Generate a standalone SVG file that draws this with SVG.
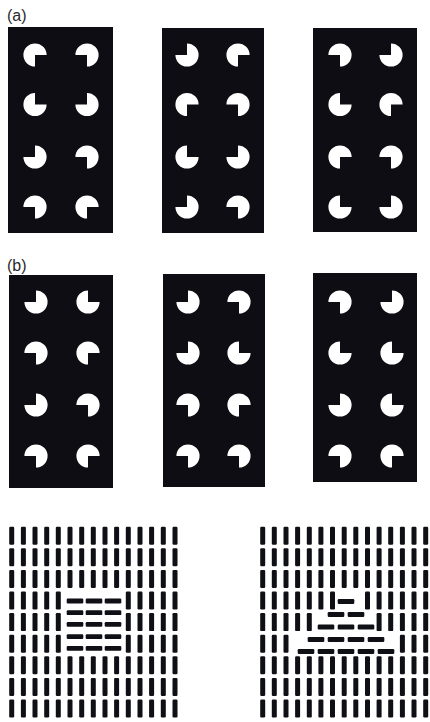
<svg xmlns="http://www.w3.org/2000/svg" xmlns:xlink="http://www.w3.org/1999/xlink" width="430" height="722" viewBox="0 0 430 722">
<style>
.bg{fill:#0d0d13}
.pm{fill:#ffffff}
.bar{fill:#0f0f16}
.lbl{font-family:"Liberation Sans",Arial,sans-serif;font-size:16px;fill:#2a2a2a}
</style>
<defs>
<path id="p" class="pm" d="M0,0 H11.6 A11.6,11.6 0 1 0 0,11.6 Z"/>
<rect id="v" class="bar" x="-2.5" y="-9" width="5" height="18" rx="1.2"/>
<rect id="h" class="bar" x="-8.3" y="-2.4" width="16.6" height="4.8" rx="1.2"/>
</defs>
<rect width="430" height="722" fill="#ffffff"/>
<text class="lbl" x="7" y="21">(a)</text>
<text class="lbl" x="7" y="271">(b)</text>

<g id="a1">
<rect class="bg" x="8" y="27" width="105" height="206"/>
<use xlink:href="#p" transform="translate(35,55) rotate(0)"/>
<use xlink:href="#p" transform="translate(87,55) rotate(90)"/>
<use xlink:href="#p" transform="translate(35,104.5) rotate(270)"/>
<use xlink:href="#p" transform="translate(87,104.5) rotate(180)"/>
<use xlink:href="#p" transform="translate(35,157) rotate(180)"/>
<use xlink:href="#p" transform="translate(87,157) rotate(90)"/>
<use xlink:href="#p" transform="translate(35,207) rotate(90)"/>
<use xlink:href="#p" transform="translate(87,207) rotate(0)"/>
</g>
<g id="a2">
<rect class="bg" x="162" y="28" width="102" height="205"/>
<use xlink:href="#p" transform="translate(187,55) rotate(180)"/>
<use xlink:href="#p" transform="translate(238,55) rotate(0)"/>
<use xlink:href="#p" transform="translate(187,104.5) rotate(0)"/>
<use xlink:href="#p" transform="translate(238,104.5) rotate(90)"/>
<use xlink:href="#p" transform="translate(187,157) rotate(270)"/>
<use xlink:href="#p" transform="translate(238,157) rotate(180)"/>
<use xlink:href="#p" transform="translate(187,207) rotate(180)"/>
<use xlink:href="#p" transform="translate(238,207) rotate(90)"/>
</g>
<g id="a3">
<rect class="bg" x="313" y="28" width="104" height="204"/>
<use xlink:href="#p" transform="translate(340,55) rotate(90)"/>
<use xlink:href="#p" transform="translate(391,55) rotate(180)"/>
<use xlink:href="#p" transform="translate(340,104.5) rotate(270)"/>
<use xlink:href="#p" transform="translate(391,104.5) rotate(0)"/>
<use xlink:href="#p" transform="translate(340,157) rotate(0)"/>
<use xlink:href="#p" transform="translate(391,157) rotate(90)"/>
<use xlink:href="#p" transform="translate(340,207) rotate(270)"/>
<use xlink:href="#p" transform="translate(391,207) rotate(180)"/>
</g>

<g id="b1">
<rect class="bg" x="9" y="275" width="104" height="213"/>
<use xlink:href="#p" transform="translate(36,302) rotate(180)"/>
<use xlink:href="#p" transform="translate(88,302) rotate(270)"/>
<use xlink:href="#p" transform="translate(36,353) rotate(90)"/>
<use xlink:href="#p" transform="translate(88,353) rotate(0)"/>
<use xlink:href="#p" transform="translate(36,405) rotate(180)"/>
<use xlink:href="#p" transform="translate(88,405) rotate(90)"/>
<use xlink:href="#p" transform="translate(36,456) rotate(90)"/>
<use xlink:href="#p" transform="translate(88,456) rotate(0)"/>
</g>
<g id="b2">
<rect class="bg" x="163" y="274" width="102" height="213"/>
<use xlink:href="#p" transform="translate(188,302) rotate(180)"/>
<use xlink:href="#p" transform="translate(239,302) rotate(90)"/>
<use xlink:href="#p" transform="translate(188,353) rotate(180)"/>
<use xlink:href="#p" transform="translate(239,353) rotate(270)"/>
<use xlink:href="#p" transform="translate(188,405) rotate(90)"/>
<use xlink:href="#p" transform="translate(239,405) rotate(0)"/>
<use xlink:href="#p" transform="translate(188,456) rotate(90)"/>
<use xlink:href="#p" transform="translate(239,456) rotate(90)"/>
</g>
<g id="b3">
<rect class="bg" x="313" y="273" width="104" height="209"/>
<use xlink:href="#p" transform="translate(340,302) rotate(90)"/>
<use xlink:href="#p" transform="translate(392,302) rotate(180)"/>
<use xlink:href="#p" transform="translate(340,353) rotate(270)"/>
<use xlink:href="#p" transform="translate(392,353) rotate(270)"/>
<use xlink:href="#p" transform="translate(340,405) rotate(180)"/>
<use xlink:href="#p" transform="translate(392,405) rotate(270)"/>
<use xlink:href="#p" transform="translate(340,456) rotate(90)"/>
<use xlink:href="#p" transform="translate(392,456) rotate(0)"/>
</g>

<g id="texture-left">
<g transform="translate(0,535.7)">
<use xlink:href="#v" x="11.7"/><use xlink:href="#v" x="23.4"/><use xlink:href="#v" x="35"/><use xlink:href="#v" x="46.7"/><use xlink:href="#v" x="58.3"/><use xlink:href="#v" x="70"/><use xlink:href="#v" x="81.7"/><use xlink:href="#v" x="93.3"/><use xlink:href="#v" x="105"/><use xlink:href="#v" x="116.6"/><use xlink:href="#v" x="128.3"/><use xlink:href="#v" x="140"/><use xlink:href="#v" x="151.6"/><use xlink:href="#v" x="163.3"/><use xlink:href="#v" x="175"/>
</g>
<g transform="translate(0,557.3)">
<use xlink:href="#v" x="11.7"/><use xlink:href="#v" x="23.4"/><use xlink:href="#v" x="35"/><use xlink:href="#v" x="46.7"/><use xlink:href="#v" x="58.3"/><use xlink:href="#v" x="70"/><use xlink:href="#v" x="81.7"/><use xlink:href="#v" x="93.3"/><use xlink:href="#v" x="105"/><use xlink:href="#v" x="116.6"/><use xlink:href="#v" x="128.3"/><use xlink:href="#v" x="140"/><use xlink:href="#v" x="151.6"/><use xlink:href="#v" x="163.3"/><use xlink:href="#v" x="175"/>
</g>
<g transform="translate(0,578.9)">
<use xlink:href="#v" x="11.7"/><use xlink:href="#v" x="23.4"/><use xlink:href="#v" x="35"/><use xlink:href="#v" x="46.7"/><use xlink:href="#v" x="58.3"/><use xlink:href="#v" x="70"/><use xlink:href="#v" x="81.7"/><use xlink:href="#v" x="93.3"/><use xlink:href="#v" x="105"/><use xlink:href="#v" x="116.6"/><use xlink:href="#v" x="128.3"/><use xlink:href="#v" x="140"/><use xlink:href="#v" x="151.6"/><use xlink:href="#v" x="163.3"/><use xlink:href="#v" x="175"/>
</g>
<g transform="translate(0,600.5)">
<use xlink:href="#v" x="11.7"/><use xlink:href="#v" x="23.4"/><use xlink:href="#v" x="35"/><use xlink:href="#v" x="46.7"/><use xlink:href="#v" x="58.3"/><use xlink:href="#v" x="128.3"/><use xlink:href="#v" x="140"/><use xlink:href="#v" x="151.6"/><use xlink:href="#v" x="163.3"/><use xlink:href="#v" x="175"/>
</g>
<g transform="translate(0,622.1)">
<use xlink:href="#v" x="11.7"/><use xlink:href="#v" x="23.4"/><use xlink:href="#v" x="35"/><use xlink:href="#v" x="46.7"/><use xlink:href="#v" x="58.3"/><use xlink:href="#v" x="128.3"/><use xlink:href="#v" x="140"/><use xlink:href="#v" x="151.6"/><use xlink:href="#v" x="163.3"/><use xlink:href="#v" x="175"/>
</g>
<g transform="translate(0,643.7)">
<use xlink:href="#v" x="11.7"/><use xlink:href="#v" x="23.4"/><use xlink:href="#v" x="35"/><use xlink:href="#v" x="46.7"/><use xlink:href="#v" x="58.3"/><use xlink:href="#v" x="128.3"/><use xlink:href="#v" x="140"/><use xlink:href="#v" x="151.6"/><use xlink:href="#v" x="163.3"/><use xlink:href="#v" x="175"/>
</g>
<g>
<use xlink:href="#h" x="75" y="601"/><use xlink:href="#h" x="94" y="601"/><use xlink:href="#h" x="113" y="601"/>
<use xlink:href="#h" x="75" y="612.7"/><use xlink:href="#h" x="94" y="612.7"/><use xlink:href="#h" x="113" y="612.7"/>
<use xlink:href="#h" x="75" y="624.4"/><use xlink:href="#h" x="94" y="624.4"/><use xlink:href="#h" x="113" y="624.4"/>
<use xlink:href="#h" x="75" y="636.6"/><use xlink:href="#h" x="94" y="636.6"/><use xlink:href="#h" x="113" y="636.6"/>
<use xlink:href="#h" x="75" y="648.3"/><use xlink:href="#h" x="94" y="648.3"/><use xlink:href="#h" x="113" y="648.3"/>
</g>
<g transform="translate(0,665.3)">
<use xlink:href="#v" x="11.7"/><use xlink:href="#v" x="23.4"/><use xlink:href="#v" x="35"/><use xlink:href="#v" x="46.7"/><use xlink:href="#v" x="58.3"/><use xlink:href="#v" x="70"/><use xlink:href="#v" x="81.7"/><use xlink:href="#v" x="93.3"/><use xlink:href="#v" x="105"/><use xlink:href="#v" x="116.6"/><use xlink:href="#v" x="128.3"/><use xlink:href="#v" x="140"/><use xlink:href="#v" x="151.6"/><use xlink:href="#v" x="163.3"/><use xlink:href="#v" x="175"/>
</g>
<g transform="translate(0,686.9)">
<use xlink:href="#v" x="11.7"/><use xlink:href="#v" x="23.4"/><use xlink:href="#v" x="35"/><use xlink:href="#v" x="46.7"/><use xlink:href="#v" x="58.3"/><use xlink:href="#v" x="70"/><use xlink:href="#v" x="81.7"/><use xlink:href="#v" x="93.3"/><use xlink:href="#v" x="105"/><use xlink:href="#v" x="116.6"/><use xlink:href="#v" x="128.3"/><use xlink:href="#v" x="140"/><use xlink:href="#v" x="151.6"/><use xlink:href="#v" x="163.3"/><use xlink:href="#v" x="175"/>
</g>
<g transform="translate(0,708.5)">
<use xlink:href="#v" x="11.7"/><use xlink:href="#v" x="23.4"/><use xlink:href="#v" x="35"/><use xlink:href="#v" x="46.7"/><use xlink:href="#v" x="58.3"/><use xlink:href="#v" x="70"/><use xlink:href="#v" x="81.7"/><use xlink:href="#v" x="93.3"/><use xlink:href="#v" x="105"/><use xlink:href="#v" x="116.6"/><use xlink:href="#v" x="128.3"/><use xlink:href="#v" x="140"/><use xlink:href="#v" x="151.6"/><use xlink:href="#v" x="163.3"/><use xlink:href="#v" x="175"/>
</g>
</g>

<g id="texture-right">
<g transform="translate(0,535.7)">
<use xlink:href="#v" x="262.7"/><use xlink:href="#v" x="274.3"/><use xlink:href="#v" x="286"/><use xlink:href="#v" x="297.6"/><use xlink:href="#v" x="309.3"/><use xlink:href="#v" x="320.9"/><use xlink:href="#v" x="332.5"/><use xlink:href="#v" x="344.2"/><use xlink:href="#v" x="355.8"/><use xlink:href="#v" x="367.5"/><use xlink:href="#v" x="379.1"/><use xlink:href="#v" x="390.7"/><use xlink:href="#v" x="402.4"/><use xlink:href="#v" x="414"/><use xlink:href="#v" x="425.7"/>
</g>
<g transform="translate(0,557.3)">
<use xlink:href="#v" x="262.7"/><use xlink:href="#v" x="274.3"/><use xlink:href="#v" x="286"/><use xlink:href="#v" x="297.6"/><use xlink:href="#v" x="309.3"/><use xlink:href="#v" x="320.9"/><use xlink:href="#v" x="332.5"/><use xlink:href="#v" x="344.2"/><use xlink:href="#v" x="355.8"/><use xlink:href="#v" x="367.5"/><use xlink:href="#v" x="379.1"/><use xlink:href="#v" x="390.7"/><use xlink:href="#v" x="402.4"/><use xlink:href="#v" x="414"/><use xlink:href="#v" x="425.7"/>
</g>
<g transform="translate(0,578.9)">
<use xlink:href="#v" x="262.7"/><use xlink:href="#v" x="274.3"/><use xlink:href="#v" x="286"/><use xlink:href="#v" x="297.6"/><use xlink:href="#v" x="309.3"/><use xlink:href="#v" x="320.9"/><use xlink:href="#v" x="332.5"/><use xlink:href="#v" x="344.2"/><use xlink:href="#v" x="355.8"/><use xlink:href="#v" x="367.5"/><use xlink:href="#v" x="379.1"/><use xlink:href="#v" x="390.7"/><use xlink:href="#v" x="402.4"/><use xlink:href="#v" x="414"/><use xlink:href="#v" x="425.7"/>
</g>
<g transform="translate(0,600.5)">
<use xlink:href="#v" x="262.7"/><use xlink:href="#v" x="274.3"/><use xlink:href="#v" x="286"/><use xlink:href="#v" x="297.6"/><use xlink:href="#v" x="309.3"/><use xlink:href="#v" x="320.9"/><use xlink:href="#v" x="332.5"/><use xlink:href="#v" x="367.5"/><use xlink:href="#v" x="379.1"/><use xlink:href="#v" x="390.7"/><use xlink:href="#v" x="402.4"/><use xlink:href="#v" x="414"/><use xlink:href="#v" x="425.7"/>
</g>
<g transform="translate(0,622.1)">
<use xlink:href="#v" x="262.7"/><use xlink:href="#v" x="274.3"/><use xlink:href="#v" x="286"/><use xlink:href="#v" x="297.6"/><use xlink:href="#v" x="309.3"/><use xlink:href="#v" x="379.1"/><use xlink:href="#v" x="390.7"/><use xlink:href="#v" x="402.4"/><use xlink:href="#v" x="414"/><use xlink:href="#v" x="425.7"/>
</g>
<g transform="translate(0,643.7)">
<use xlink:href="#v" x="262.7"/><use xlink:href="#v" x="274.3"/><use xlink:href="#v" x="286"/><use xlink:href="#v" x="402.4"/><use xlink:href="#v" x="414"/><use xlink:href="#v" x="425.7"/>
</g>
<g>
<use xlink:href="#h" x="346" y="601.5"/>
<use xlink:href="#h" x="336" y="614.5"/><use xlink:href="#h" x="356" y="614.5"/>
<use xlink:href="#h" x="326" y="627"/><use xlink:href="#h" x="346" y="627"/><use xlink:href="#h" x="366" y="627"/>
<use xlink:href="#h" x="316" y="639.5"/><use xlink:href="#h" x="336" y="639.5"/><use xlink:href="#h" x="356" y="639.5"/><use xlink:href="#h" x="376" y="639.5"/>
<use xlink:href="#h" x="306" y="651.5"/><use xlink:href="#h" x="326" y="651.5"/><use xlink:href="#h" x="346" y="651.5"/><use xlink:href="#h" x="366" y="651.5"/><use xlink:href="#h" x="386" y="651.5"/>
</g>
<g transform="translate(0,665.3)">
<use xlink:href="#v" x="262.7"/><use xlink:href="#v" x="274.3"/><use xlink:href="#v" x="286"/><use xlink:href="#v" x="297.6"/><use xlink:href="#v" x="309.3"/><use xlink:href="#v" x="320.9"/><use xlink:href="#v" x="332.5"/><use xlink:href="#v" x="344.2"/><use xlink:href="#v" x="355.8"/><use xlink:href="#v" x="367.5"/><use xlink:href="#v" x="379.1"/><use xlink:href="#v" x="390.7"/><use xlink:href="#v" x="402.4"/><use xlink:href="#v" x="414"/><use xlink:href="#v" x="425.7"/>
</g>
<g transform="translate(0,686.9)">
<use xlink:href="#v" x="262.7"/><use xlink:href="#v" x="274.3"/><use xlink:href="#v" x="286"/><use xlink:href="#v" x="297.6"/><use xlink:href="#v" x="309.3"/><use xlink:href="#v" x="320.9"/><use xlink:href="#v" x="332.5"/><use xlink:href="#v" x="344.2"/><use xlink:href="#v" x="355.8"/><use xlink:href="#v" x="367.5"/><use xlink:href="#v" x="379.1"/><use xlink:href="#v" x="390.7"/><use xlink:href="#v" x="402.4"/><use xlink:href="#v" x="414"/><use xlink:href="#v" x="425.7"/>
</g>
<g transform="translate(0,708.5)">
<use xlink:href="#v" x="262.7"/><use xlink:href="#v" x="274.3"/><use xlink:href="#v" x="286"/><use xlink:href="#v" x="297.6"/><use xlink:href="#v" x="309.3"/><use xlink:href="#v" x="320.9"/><use xlink:href="#v" x="332.5"/><use xlink:href="#v" x="344.2"/><use xlink:href="#v" x="355.8"/><use xlink:href="#v" x="367.5"/><use xlink:href="#v" x="379.1"/><use xlink:href="#v" x="390.7"/><use xlink:href="#v" x="402.4"/><use xlink:href="#v" x="414"/><use xlink:href="#v" x="425.7"/>
</g>
</g>
</svg>
